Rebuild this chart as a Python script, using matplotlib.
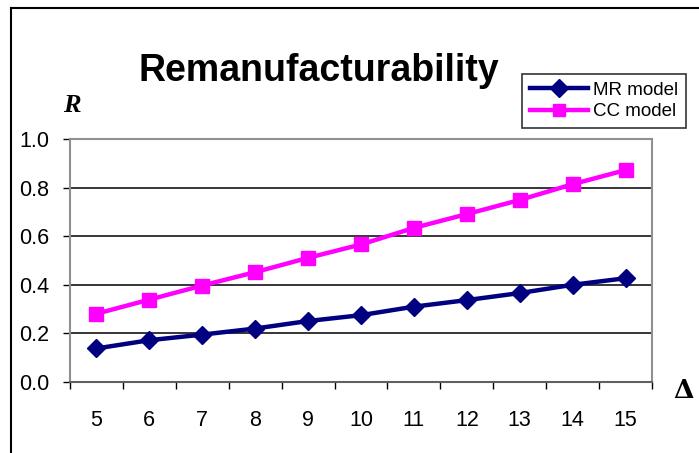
import matplotlib
matplotlib.use("Agg")
import matplotlib.pyplot as plt
from matplotlib.lines import Line2D

categories = ["5", "6", "7", "8", "9", "10", "11", "12", "13", "14", "15"]
mr_model = [0.138, 0.172, 0.195, 0.220, 0.251, 0.275, 0.310, 0.337, 0.366, 0.400, 0.427]
cc_model = [0.281, 0.339, 0.397, 0.452, 0.511, 0.566, 0.634, 0.691, 0.749, 0.814, 0.872]
y_ticks = [0.0, 0.2, 0.4, 0.6, 0.8, 1.0]
y_ticklabels = ["0.0", "0.2", "0.4", "0.6", "0.8", "1.0"]

plt.rcParams['font.family'] = ['Liberation Sans', 'DejaVu Sans']

W, H = 699, 453
fig = plt.figure(figsize=(W / 100, H / 100), dpi=100)

def fx(px):
    return px / W

def fy(py):
    return 1 - py / H

L, R_, T, B = 70, 652, 139, 382
ax = fig.add_axes([fx(L), fy(B), fx(R_) - fx(L), fy(T) - fy(B)])

x = list(range(len(categories)))
ax.plot(x, mr_model, color="#000080", lw=3.2, marker="D", ms=9, mec="#000080", mfc="#000080",
        label="MR model", zorder=4)
ax.plot(x, cc_model, color="#FF00FF", lw=3.2, marker="s", ms=9.5, mec="#FF00FF", mfc="#FF00FF",
        label="CC model", zorder=4)

ax.set_xlim(-0.5, len(categories) - 0.5)
ax.set_ylim(0, 1.0)

# gridlines
for yv in y_ticks[1:-1]:
    ax.axhline(yv, color="black", lw=1.1, zorder=1)

ax.set_yticks(y_ticks)
ax.set_yticklabels(y_ticklabels, fontsize=15.5)
ax.set_xticks([i - 0.5 for i in range(len(categories) + 1)])
ax.set_xticklabels([])
ax.set_xticks(x, minor=True)
ax.set_xticklabels(categories, minor=True, fontsize=15.5)
ax.tick_params(axis="x", which="major", direction="out", length=5, width=1, color="black")
ax.tick_params(axis="x", which="minor", length=0, pad=20)
ax.tick_params(axis="y", direction="out", length=5, width=1, color="black", pad=10)

for s in ["top", "right", "left"]:
    ax.spines[s].set_color("#909090")
    ax.spines[s].set_linewidth(1.5)
ax.spines["bottom"].set_color("#606060")
ax.spines["bottom"].set_linewidth(1.5)

# title
fig.text(fx(319), fy(71), "Remanufacturability", fontsize=27, fontweight="bold",
         ha="center", va="center")

# axis symbols
fig.text(fx(72), fy(105), "R", fontsize=19, fontstyle="italic", fontweight="bold",
         family=["Liberation Serif", "DejaVu Serif"], ha="center", va="center")
fig.text(fx(683), fy(391), "Δ", fontsize=19, fontweight="bold",
         family=["DejaVu Serif"], ha="center", va="center")

# legend
handles = [
    Line2D([], [], color="#000080", lw=3.2, marker="D", ms=9, mfc="#000080", mec="#000080"),
    Line2D([], [], color="#FF00FF", lw=3.2, marker="s", ms=9, mfc="#FF00FF", mec="#FF00FF"),
]
leg = fig.legend(handles, ["MR model", "CC model"], loc="upper left",
                 bbox_to_anchor=(fx(522), fy(74)), bbox_transform=fig.transFigure,
                 fontsize=13.5, frameon=True, fancybox=False, edgecolor="black",
                 borderpad=0.4, labelspacing=0.25, handlelength=3.1, handletextpad=0.3,
                 borderaxespad=0)
leg.get_frame().set_linewidth(1.2)

# figure border (left and top)
fig.add_artist(Line2D([fx(11), fx(11)], [fy(8), 0], color="black", lw=1.5, transform=fig.transFigure))
fig.add_artist(Line2D([fx(11), 1], [fy(8), fy(8)], color="black", lw=1.5, transform=fig.transFigure))

fig.savefig("out.png", dpi=100)
